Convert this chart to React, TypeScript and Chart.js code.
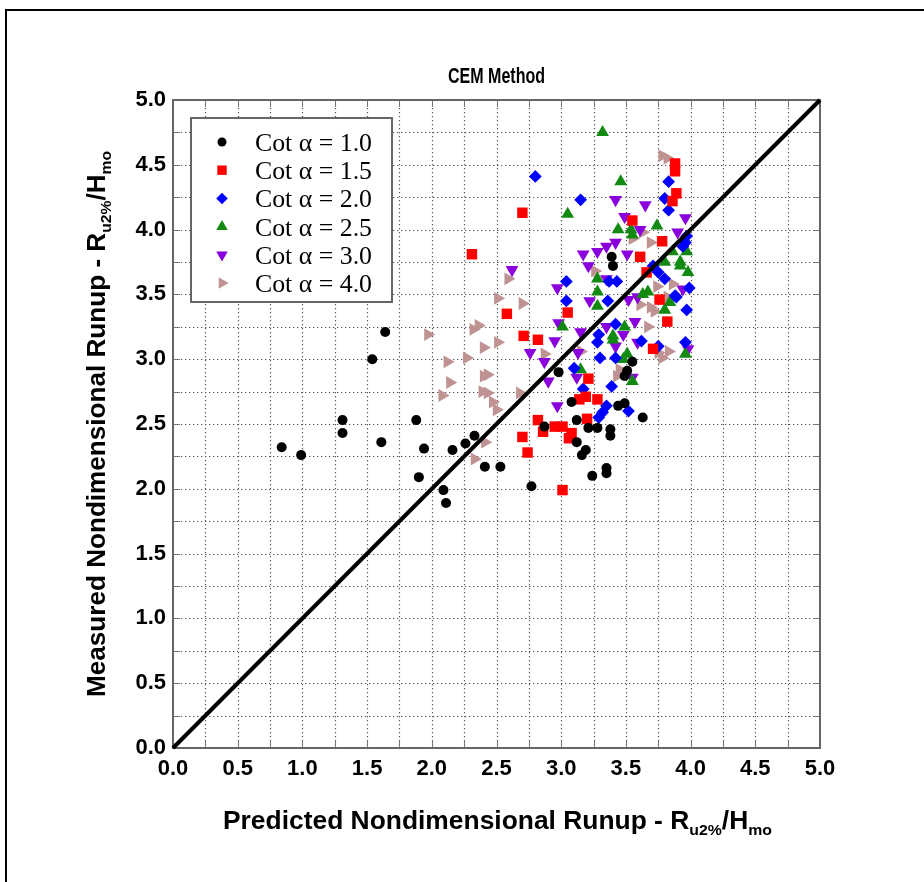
import React, { useEffect, useRef } from "react";
import { Chart, registerables } from "chart.js";

Chart.register(...registerables);

const W = 924;
const H = 882;

const TITLE = "CEM Method";
const X_TITLE_MAIN = "Predicted Nondimensional Runup - R";
const Y_TITLE_MAIN = "Measured Nondimensional Runup - R";
const SUB_A = "u2%";
const MID = "/H";
const SUB_B = "mo";

const AXIS_MIN = 0;
const AXIS_MAX = 5;
const GRID_STEP = 0.25;

const SERIES_LABELS = [
  "Cot \u03b1 = 1.0",
  "Cot \u03b1 = 1.5",
  "Cot \u03b1 = 2.0",
  "Cot \u03b1 = 2.5",
  "Cot \u03b1 = 3.0",
  "Cot \u03b1 = 4.0",
];

// Cot a = 1.0
const C10_X = [0.84, 0.99, 1.31, 1.31, 1.54, 1.64, 1.61, 1.88, 1.94, 1.9, 2.09, 2.11, 2.16, 2.26, 2.33, 2.41, 2.53, 2.77, 2.98, 3.08, 3.12, 3.21, 3.28, 3.38, 3.38, 3.12, 3.16, 3.19, 3.24, 3.35, 3.35, 3.44, 3.49, 3.63, 3.55, 3.49, 3.51, 3.39, 3.4, 2.87];
const C10_Y = [2.32, 2.26, 2.43, 2.53, 3.0, 3.21, 2.36, 2.53, 2.31, 2.09, 1.99, 1.89, 2.3, 2.35, 2.41, 2.17, 2.17, 2.02, 2.9, 2.67, 2.53, 2.47, 2.47, 2.46, 2.41, 2.36, 2.26, 2.3, 2.1, 2.16, 2.12, 2.64, 2.66, 2.55, 2.98, 2.87, 2.91, 3.79, 3.72, 2.48];

// Cot a = 1.5
const C15_X = [2.31, 2.58, 2.71, 2.82, 2.82, 2.86, 2.7, 2.74, 2.7, 3.88, 3.88, 3.89, 3.86, 3.55, 3.61, 3.78, 3.66, 3.05, 3.71, 3.21, 3.14, 3.19, 3.28, 3.2, 2.95, 3.01, 3.08, 3.06, 3.01, 3.76, 3.82];
const C15_Y = [3.81, 3.35, 3.18, 3.15, 2.53, 2.44, 2.4, 2.28, 4.13, 4.51, 4.45, 4.28, 4.22, 4.07, 3.79, 3.91, 3.67, 3.36, 3.08, 2.85, 2.69, 2.71, 2.69, 2.54, 2.48, 2.48, 2.43, 2.39, 1.99, 3.46, 3.29];

// Cot a = 2.0
const C20_X = [2.8, 3.15, 3.83, 3.8, 3.83, 3.04, 3.04, 3.43, 3.75, 3.97, 3.94, 3.99, 3.97, 3.89, 3.71, 3.36, 3.42, 3.29, 3.28, 3.62, 3.75, 3.96, 3.3, 3.42, 3.1, 3.17, 3.39, 3.35, 3.32, 3.29, 3.52, 3.8, 3.88, 3.37, 3.96];
const C20_Y = [4.41, 4.23, 4.37, 4.24, 4.15, 3.6, 3.45, 3.6, 3.67, 3.95, 3.87, 3.55, 3.38, 3.48, 3.72, 3.45, 3.27, 3.19, 3.13, 3.14, 3.1, 3.13, 3.01, 3.01, 2.93, 2.77, 2.79, 2.64, 2.59, 2.55, 2.6, 3.62, 3.49, 3.6, 3.9];

// Cot a = 2.5
const C25_X = [3.32, 3.46, 3.05, 3.44, 3.54, 3.55, 3.74, 3.28, 3.28, 3.28, 3.86, 3.92, 3.97, 3.98, 3.8, 3.67, 3.84, 3.92, 3.8, 3.49, 3.4, 3.51, 3.96, 3.63, 3.01, 3.4, 3.48, 3.55, 3.15];
const C25_Y = [4.75, 4.37, 4.12, 4.0, 4.0, 3.96, 4.03, 3.62, 3.52, 3.41, 3.83, 3.75, 3.83, 3.67, 3.75, 3.52, 3.44, 3.72, 3.38, 3.25, 3.18, 3.04, 3.04, 3.5, 3.25, 3.15, 3.0, 2.83, 2.92];

// Cot a = 3.0
const C30_X = [2.62, 2.76, 2.87, 2.9, 3.42, 3.65, 3.96, 3.49, 3.61, 3.17, 3.21, 3.28, 3.35, 3.42, 3.51, 2.97, 3.35, 3.22, 3.9, 3.94, 3.52, 3.59, 2.98, 2.95, 2.97, 3.15, 3.13, 3.12, 3.35, 3.48, 3.42, 3.57, 3.59, 3.55, 3.98];
const C30_Y = [3.69, 3.05, 2.98, 2.83, 4.23, 4.19, 4.09, 4.1, 4.0, 3.81, 3.72, 3.83, 3.87, 3.9, 3.81, 3.55, 3.62, 3.45, 3.98, 3.54, 3.46, 3.48, 3.28, 3.14, 2.64, 3.21, 3.05, 2.86, 3.25, 3.19, 3.1, 3.29, 3.13, 2.86, 3.08];

// Cot a = 4.0
const C40_X = [2.59, 2.51, 2.7, 1.97, 2.32, 2.36, 2.27, 2.12, 2.4, 2.51, 2.14, 2.08, 2.4, 2.43, 2.39, 2.43, 2.47, 2.5, 2.68, 2.41, 2.33, 3.78, 3.82, 3.26, 3.63, 3.69, 3.55, 3.74, 3.86, 3.61, 3.69, 3.82, 3.72, 3.84, 3.67, 3.83, 3.75, 3.78, 3.43, 2.87, 3.15, 3.45];
const C40_Y = [3.62, 3.47, 3.43, 3.19, 3.23, 3.26, 3.01, 2.98, 3.09, 3.13, 2.82, 2.72, 2.87, 2.88, 2.75, 2.74, 2.67, 2.61, 2.74, 2.36, 2.23, 4.57, 4.55, 3.68, 3.98, 3.9, 3.93, 3.56, 3.58, 3.42, 3.4, 3.48, 3.37, 3.46, 3.25, 3.06, 3.05, 3.01, 2.87, 3.04, 3.06, 2.92];

// 1:1 line
const DIAG_X = [0, 5];
const DIAG_Y = [0, 5];

const SERIES_X = [C10_X, C15_X, C20_X, C25_X, C30_X, C40_X];
const SERIES_Y = [C10_Y, C15_Y, C20_Y, C25_Y, C30_Y, C40_Y];

const STYLES = [
  { color: "#000000", shape: "circle", rot: 0, r: 5 },
  { color: "#ff0000", shape: "rect", rot: 0, r: 7.4 },
  { color: "#0000ff", shape: "rectRot", rot: 0, r: 6.4 },
  { color: "#128a12", shape: "triangle", rot: 0, r: 7.4 },
  { color: "#8a00dc", shape: "triangle", rot: 180, r: 7.4 },
  { color: "#c09393", shape: "triangle", rot: 90, r: 7.4 },
];

const SANS = '"Liberation Sans", Arial, Helvetica, sans-serif';
const SERIF = '"Liberation Serif", "Times New Roman", serif';

function drawMarker(ctx: CanvasRenderingContext2D, shape: string, rotDeg: number, r: number, x: number, y: number, color: string) {
  ctx.save();
  ctx.fillStyle = color;
  ctx.beginPath();
  if (shape === "circle") {
    ctx.arc(x, y, r, 0, Math.PI * 2);
  } else if (shape === "rect") {
    const s = r * Math.SQRT1_2;
    ctx.rect(x - s, y - s, 2 * s, 2 * s);
  } else if (shape === "rectRot") {
    ctx.moveTo(x - r, y);
    ctx.lineTo(x, y + r);
    ctx.lineTo(x + r, y);
    ctx.lineTo(x, y - r);
    ctx.closePath();
  } else {
    let rad = (rotDeg * Math.PI) / 180;
    ctx.moveTo(x + Math.sin(rad) * r, y - Math.cos(rad) * r);
    rad += (2 * Math.PI) / 3;
    ctx.lineTo(x + Math.sin(rad) * r, y - Math.cos(rad) * r);
    rad += (2 * Math.PI) / 3;
    ctx.lineTo(x + Math.sin(rad) * r, y - Math.cos(rad) * r);
    ctx.closePath();
  }
  ctx.fill();
  ctx.restore();
}

type Part = { t: string; size: number; dy: number };

function drawRich(ctx: CanvasRenderingContext2D, parts: Part[], family: string, weight: string, x: number, y: number, rot: number, targetW: number, align: "center" | "left") {
  ctx.save();
  ctx.translate(x, y);
  ctx.rotate(rot);
  let total = 0;
  const widths = parts.map((p) => {
    ctx.font = `${weight} ${p.size}px ${family}`;
    const w = ctx.measureText(p.t).width;
    total += w;
    return w;
  });
  const sx = targetW / total;
  ctx.scale(sx, 1);
  let cx = align === "center" ? -total / 2 : 0;
  ctx.fillStyle = "#000";
  ctx.textBaseline = "alphabetic";
  ctx.textAlign = "left";
  parts.forEach((p, i) => {
    ctx.font = `${weight} ${p.size}px ${family}`;
    ctx.fillText(p.t, cx, p.dy);
    cx += widths[i];
  });
  ctx.restore();
}

const decorPlugin = {
  id: "decor",
  beforeDraw(chart: any) {
    const ctx: CanvasRenderingContext2D = chart.ctx;
    ctx.save();
    ctx.fillStyle = "#fff";
    ctx.fillRect(0, 0, W, H);
    ctx.strokeStyle = "#000";
    ctx.lineWidth = 2;
    ctx.strokeRect(6, 10, W + 40, H + 40);
    ctx.restore();
  },
  beforeDatasetsDraw(chart: any) {
    const ctx: CanvasRenderingContext2D = chart.ctx;
    const { left, right, top, bottom } = chart.chartArea;
    const xs = chart.scales.x;
    const ys = chart.scales.y;
    ctx.save();
    // dotted grid
    ctx.strokeStyle = "#555";
    ctx.lineWidth = 1.2;
    ctx.setLineDash([1.3, 2.7]);
    xs.ticks.forEach((t: any) => {
      if (t.value <= AXIS_MIN || t.value >= AXIS_MAX) return;
      const px = Math.round(xs.getPixelForValue(t.value)) + 0.5;
      ctx.beginPath();
      ctx.moveTo(px, top);
      ctx.lineTo(px, bottom);
      ctx.stroke();
    });
    ys.ticks.forEach((t: any) => {
      if (t.value <= AXIS_MIN || t.value >= AXIS_MAX) return;
      const py = Math.round(ys.getPixelForValue(t.value)) + 0.5;
      ctx.beginPath();
      ctx.moveTo(left, py);
      ctx.lineTo(right, py);
      ctx.stroke();
    });
    ctx.setLineDash([]);
    // inward tick marks
    ctx.strokeStyle = "#777";
    ctx.lineWidth = 1;
    const tl = 7;
    xs.ticks.forEach((t: any) => {
      const px = Math.round(xs.getPixelForValue(t.value)) + 0.5;
      ctx.beginPath();
      ctx.moveTo(px, bottom);
      ctx.lineTo(px, bottom - tl);
      ctx.moveTo(px, top);
      ctx.lineTo(px, top + tl);
      ctx.stroke();
    });
    ys.ticks.forEach((t: any) => {
      const py = Math.round(ys.getPixelForValue(t.value)) + 0.5;
      ctx.beginPath();
      ctx.moveTo(left, py);
      ctx.lineTo(left + tl, py);
      ctx.moveTo(right, py);
      ctx.lineTo(right - tl, py);
      ctx.stroke();
    });
    // plot frame
    ctx.strokeStyle = "#666";
    ctx.lineWidth = 2;
    ctx.strokeRect(left, top, right - left, bottom - top);
    ctx.restore();
  },
  afterDatasetsDraw(chart: any) {
    const ctx: CanvasRenderingContext2D = chart.ctx;
    // legend
    const bx = 191, by = 118, bw = 201, bh = 184;
    ctx.save();
    ctx.fillStyle = "#fff";
    ctx.fillRect(bx, by, bw, bh);
    ctx.strokeStyle = "#666";
    ctx.lineWidth = 2;
    ctx.strokeRect(bx, by, bw, bh);
    ctx.restore();
    SERIES_LABELS.forEach((label, i) => {
      const st = STYLES[i];
      const cy = 142 + i * 28.2;
      drawMarker(ctx, st.shape, st.rot, st.r * 0.9, 222, cy, st.color);
      drawRich(ctx, [{ t: label, size: 26, dy: 0 }], SERIF, "normal", 255, cy + 9, 0, 117, "left");
    });
  },
  afterDraw(chart: any) {
    const ctx: CanvasRenderingContext2D = chart.ctx;
    const { left, right, top, bottom } = chart.chartArea;
    const cx = (left + right) / 2;
    const cy = (top + bottom) / 2;
    drawRich(ctx, [{ t: TITLE, size: 22, dy: 0 }], SANS, "bold", cx, 83, 0, 97, "center");
    const xParts: Part[] = [
      { t: X_TITLE_MAIN, size: 25, dy: 0 },
      { t: SUB_A, size: 15, dy: 6 },
      { t: MID, size: 25, dy: 0 },
      { t: SUB_B, size: 15, dy: 6 },
    ];
    drawRich(ctx, xParts, SANS, "bold", cx + 1, 829, 0, 549, "center");
    const yParts: Part[] = [
      { t: Y_TITLE_MAIN, size: 25, dy: 0 },
      { t: SUB_A, size: 15, dy: 6 },
      { t: MID, size: 25, dy: 0 },
      { t: SUB_B, size: 15, dy: 6 },
    ];
    drawRich(ctx, yParts, SANS, "bold", 105, cy, -Math.PI / 2, 546, "center");
  },
};

function tickFmt(v: any) {
  const n = Math.round(Number(v) * 4);
  return n % 2 === 0 ? (n / 4).toFixed(1) : "";
}

export default function App() {
  const ref = useRef<HTMLCanvasElement | null>(null);

  useEffect(() => {
    const canvas = ref.current;
    if (!canvas) return;

    const datasets: any[] = [
      {
        label: "1:1",
        data: DIAG_X.map((x, i) => ({ x, y: DIAG_Y[i] })),
        showLine: true,
        borderColor: "#000",
        borderWidth: 4,
        pointRadius: 0,
        order: -1,
        clip: 6,
      },
    ];
    SERIES_LABELS.forEach((label, i) => {
      const st = STYLES[i];
      datasets.push({
        label,
        data: SERIES_X[i].map((x, j) => ({ x, y: SERIES_Y[i][j] })),
        backgroundColor: st.color,
        borderColor: st.color,
        borderWidth: 0,
        pointStyle: st.shape,
        pointRotation: st.rot,
        pointRadius: st.r,
        pointHoverRadius: st.r,
        showLine: false,
        order: 0,
      });
    });

    const tickFont = { family: SANS, weight: "bold" as const, size: 22 };

    const chart = new Chart(canvas, {
      type: "scatter",
      data: { datasets },
      options: {
        responsive: false,
        animation: false,
        devicePixelRatio: 1,
        events: [],
        layout: { padding: { left: 0, right: 104, top: 100, bottom: 0 } },
        plugins: {
          legend: { display: false },
          title: { display: false },
          tooltip: { enabled: false },
        },
        scales: {
          x: {
            type: "linear",
            min: AXIS_MIN,
            max: AXIS_MAX,
            afterFit: (s: any) => {
              s.height = 134;
            },
            grid: { display: false, drawTicks: false },
            border: { display: false },
            ticks: {
              stepSize: GRID_STEP,
              autoSkip: false,
              maxRotation: 0,
              minRotation: 0,
              padding: 8,
              color: "#000",
              font: tickFont,
              callback: tickFmt,
            },
          },
          y: {
            type: "linear",
            min: AXIS_MIN,
            max: AXIS_MAX,
            afterFit: (s: any) => {
              s.width = 173;
            },
            grid: { display: false, drawTicks: false },
            border: { display: false },
            ticks: {
              stepSize: GRID_STEP,
              autoSkip: false,
              padding: 7,
              color: "#000",
              font: tickFont,
              callback: tickFmt,
            },
          },
        },
      },
      plugins: [decorPlugin as any],
    });

    return () => chart.destroy();
  }, []);

  return (
    <div style={{ position: "absolute", left: 0, top: 0, width: W, height: H, background: "#fff" }}>
      <canvas ref={ref} width={W} height={H} style={{ display: "block", width: W, height: H }} />
    </div>
  );
}
